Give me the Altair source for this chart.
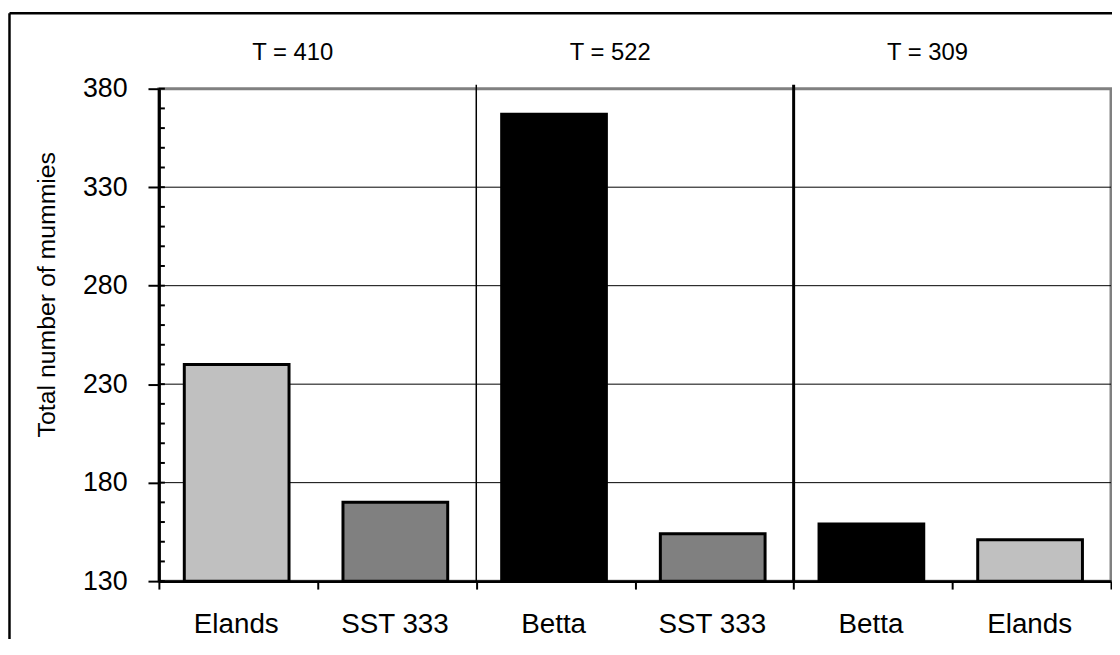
import altair as alt
import pandas as pd

# ---- data ----
CATEGORIES = ["Elands", "SST 333", "Betta", "SST 333", "Betta", "Elands"]
VALUES = [240, 170, 367, 154, 159, 151]
GROUP_TITLES = ["T = 410", "T = 522", "T = 309"]
Y_TICKS = [130, 180, 230, 280, 330, 380]
Y_MINOR = list(range(130, 381, 10))
GRID_VALUES = [180, 230, 280, 330]
X_BOUNDARIES = [0, 1, 2, 3, 4, 5, 6]
THIN_SEPARATOR = [2]
THICK_SEPARATOR = [4]
VARIETIES = ["Elands", "SST 333", "Betta"]
VARIETY_COLORS = ["#C0C0C0", "#808080", "#000000"]
Y_MIN, Y_MAX = 130, 380

W, H = 959, 496
FONT = "Liberation Sans"

bars_df = pd.DataFrame({"pos": list(range(len(CATEGORIES))), "variety": CATEGORIES, "value": VALUES})
titles_df = pd.DataFrame({"g": list(range(len(GROUP_TITLES))), "title": GROUP_TITLES})

xscale = alt.Scale(domain=[X_BOUNDARIES[0], X_BOUNDARIES[-1]], nice=False, zero=False)
yscale = alt.Scale(domain=[Y_MIN, Y_MAX], nice=False, zero=False)

xaxis = alt.Axis(values=X_BOUNDARIES, labels=False, title=None, grid=False,
                 domainColor="black", domainWidth=3, tickColor="black",
                 tickWidth=2, tickSize=8)
yaxis = alt.Axis(values=Y_TICKS, grid=False, domainColor="black", domainWidth=3,
                 tickColor="black", tickWidth=2, tickSize=11,
                 labelFont=FONT, labelFontSize=27, labelColor="black", labelPadding=21,
                 title="Total number of mummies", titleFont=FONT, titleFontSize=25,
                 titleFontWeight="normal", titleColor="black", titleX=-113, titleY=207,
                 titleAngle=270, titleAlign="center", titleBaseline="middle")


def X(field):
    return alt.X(field, scale=xscale, axis=xaxis, title=None)


def Y(field):
    return alt.Y(field, scale=yscale, axis=yaxis, title="Total number of mummies")


bars = alt.Chart(bars_df).transform_calculate(
    x1="datum.pos + 0.16", x2="datum.pos + 0.82"
).mark_bar(stroke="black", strokeWidth=3).encode(
    x=X("x1:Q"),
    x2="x2:Q",
    y=Y("value:Q"),
    y2=alt.datum(Y_MIN),
    color=alt.Color("variety:N", scale=alt.Scale(domain=VARIETIES, range=VARIETY_COLORS), legend=None),
)

grid = alt.Chart(pd.DataFrame({"v": GRID_VALUES})).mark_rule(color="black", strokeWidth=1).encode(
    y=Y("v:Q")
)

minor = alt.Chart(pd.DataFrame({"v": Y_MINOR})).mark_rule(color="black", strokeWidth=2).encode(
    y=Y("v:Q"),
    x=alt.value(0), x2=alt.value(6),
)

sep_thin = alt.Chart(pd.DataFrame({"s": THIN_SEPARATOR})).mark_rule(color="black", strokeWidth=1.5).encode(
    x=X("s:Q"), y=alt.value(-4), y2=alt.value(H)
)
sep_thick = alt.Chart(pd.DataFrame({"s": THICK_SEPARATOR})).mark_rule(color="black", strokeWidth=3).encode(
    x=X("s:Q"), y=alt.value(-4), y2=alt.value(H)
)

titles = alt.Chart(titles_df).transform_calculate(
    xc="2 * datum.g + 1"
).mark_text(font=FONT, fontSize=24, color="black", baseline="alphabetic", dx=-25).encode(
    x=X("xc:Q"), y=alt.value(-29), text="title:N"
)

labels = alt.Chart(bars_df).transform_calculate(
    xc="datum.pos + 0.5"
).mark_text(font=FONT, fontSize=28, color="black", baseline="alphabetic", dx=-2).encode(
    x=X("xc:Q"), y=alt.value(548), text="variety:N"
)

frame_left = alt.Chart(pd.DataFrame({"k": [0]})).mark_rule(color="black", strokeWidth=2.5).encode(
    x=alt.value(-150.5), y=alt.value(-76), y2=alt.value(H + 80)
)
frame_top = alt.Chart(pd.DataFrame({"k": [0]})).mark_rule(color="black", strokeWidth=2.5).encode(
    y=alt.value(-76), x=alt.value(-150.5), x2=alt.value(W + 10)
)

chart = alt.layer(
    frame_left, frame_top, grid, bars, sep_thin, sep_thick, minor, titles, labels
).properties(
    width=W, height=H,
    autosize=alt.AutoSizeParams(type="none"),
    padding={"left": 152, "top": 79, "right": 1, "bottom": 56},
    background="white",
).configure_view(stroke="#808080", strokeWidth=3)

chart.save("out.html", embed_options={"renderer": "svg", "actions": False})
